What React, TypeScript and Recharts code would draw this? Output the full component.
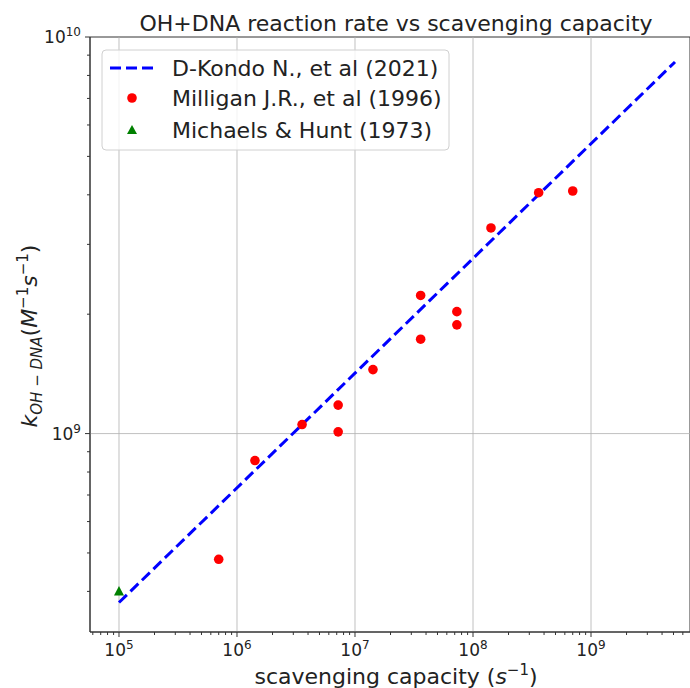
import React from 'react'
import { ComposedChart, Line, Scatter, XAxis, YAxis, ReferenceLine, ReferenceArea } from 'recharts'

// D-Kondo fit line (read at its ends and in the middle)
const KONDO = [
  { x: 1e5, y: 3.75e8 },
  { x: 1e7, y: 1.42e9 },
  { x: 5.15e9, y: 8.65e9 },
]

// Milligan J.R. et al (1996)
const MILLIGAN_X = [7.0e5, 1.42e6, 3.56e6, 7.2e6, 7.2e6, 1.42e7, 3.6e7, 3.6e7, 7.3e7, 7.3e7, 1.42e8, 3.6e8, 7.0e8]
const MILLIGAN_Y = [4.82e8, 8.55e8, 1.054e9, 1.18e9, 1.01e9, 1.45e9, 2.23e9, 1.73e9, 2.03e9, 1.88e9, 3.3e9, 4.05e9, 4.09e9]
const milligan = MILLIGAN_X.map((x, i) => ({ x, y: MILLIGAN_Y[i] }))

// Michaels & Hunt (1973)
const MICHAELS = [{ x: 1e5, y: 4.0e8 }]

const X_DOMAIN = [5.68e4, 6.9e9]
const Y_DOMAIN = [3.16e8, 1e10]
const X_MAJOR = [1e5, 1e6, 1e7, 1e8, 1e9]
const Y_MAJOR = [1e9, 1e10]
const MULT = [2, 3, 4, 5, 6, 7, 8, 9]

const minorTicks = (dom: number[]) => {
  const out: number[] = []
  for (let e = Math.floor(Math.log10(dom[0])); e <= Math.ceil(Math.log10(dom[1])); e++) {
    MULT.forEach(m => {
      const v = m * Math.pow(10, e)
      if (v >= dom[0] && v <= dom[1]) out.push(v)
    })
  }
  return out
}

const X_TICKS = [...X_MAJOR, ...minorTicks(X_DOMAIN)].sort((a, b) => a - b)
const Y_TICKS = [...Y_MAJOR, ...minorTicks(Y_DOMAIN)].filter(v => v <= Y_DOMAIN[1]).sort((a, b) => a - b)

const FONT = '"DejaVu Sans", sans-serif'
const AXIS = '#333'

const isMajor = (v: number) => Math.abs(Math.log10(v) - Math.round(Math.log10(v))) < 1e-6

const XTick = (props: any) => {
  const { x, y, payload } = props
  const v = payload.value
  const major = isMajor(v)
  return (
    <g transform={`translate(${x},${y})`}>
      <line x1={0} y1={0} x2={0} y2={major ? 5 : 3} stroke={AXIS} strokeWidth={1} />
      {major && (
        <text y={24} textAnchor="middle" fontSize={17} fill="#222" fontFamily={FONT}>
          10<tspan dy={-7} fontSize={12}>{Math.round(Math.log10(v))}</tspan>
        </text>
      )}
    </g>
  )
}

const YTick = (props: any) => {
  const { x, y, payload } = props
  const v = payload.value
  const major = isMajor(v)
  return (
    <g transform={`translate(${x},${y})`}>
      <line x1={0} y1={0} x2={major ? -5 : -3} y2={0} stroke={AXIS} strokeWidth={1} />
      {major && (
        <text x={-9} y={6} textAnchor="end" fontSize={17} fill="#222" fontFamily={FONT}>
          10<tspan dy={-7} fontSize={12}>{Math.round(Math.log10(v))}</tspan>
        </text>
      )}
    </g>
  )
}

const Dot = (props: any) => <circle cx={props.cx} cy={props.cy} r={4.8} fill="#ff0000" />
const Tri = (props: any) => (
  <polygon
    points={`${props.cx},${props.cy - 5.5} ${props.cx - 5},${props.cy + 4} ${props.cx + 5},${props.cy + 4}`}
    fill="#008000"
  />
)

export default function App() {
  return (
    <div style={{ position: 'absolute', left: 0, top: 0, width: 690, height: 688, background: '#fff', fontFamily: FONT }}>
      <ComposedChart width={690} height={688} margin={{ top: 37, right: 0, bottom: 0, left: 0 }}>
        <XAxis
          dataKey="x"
          type="number"
          scale="log"
          domain={X_DOMAIN}
          allowDataOverflow
          ticks={X_TICKS}
          interval={0}
          height={56}
          tickSize={0}
          tickMargin={0}
          tick={<XTick />}
          stroke={AXIS}
        />
        <YAxis
          dataKey="y"
          type="number"
          scale="log"
          domain={Y_DOMAIN}
          allowDataOverflow
          ticks={Y_TICKS}
          interval={0}
          width={90}
          tickSize={0}
          tickMargin={0}
          tick={<YTick />}
          stroke={AXIS}
        />
        {X_MAJOR.map(v => (
          <ReferenceLine key={'gx' + v} x={v} stroke="#b0b0b0" strokeWidth={0.8} />
        ))}
        <ReferenceLine y={1e9} stroke="#b0b0b0" strokeWidth={0.8} />
        <ReferenceArea x1={X_DOMAIN[0]} x2={X_DOMAIN[1]} y1={Y_DOMAIN[0]} y2={Y_DOMAIN[1]} fill="none" stroke={AXIS} strokeWidth={1} />
        <Line
          data={KONDO}
          dataKey="y"
          type="linear"
          stroke="#0000ff"
          strokeWidth={3}
          strokeDasharray="11 5"
          dot={false}
          isAnimationActive={false}
        />
        <Scatter data={milligan} dataKey="y" shape={<Dot />} isAnimationActive={false} />
        <Scatter data={MICHAELS} dataKey="y" shape={<Tri />} isAnimationActive={false} />
      </ComposedChart>
      <svg width={690} height={688} style={{ position: 'absolute', left: 0, top: 0, pointerEvents: 'none' }} fontFamily={FONT}>
        <text x={396} y={31} textAnchor="middle" fontSize={22} fill="#222">
          OH+DNA reaction rate vs scavenging capacity
        </text>
        <text x={396} y={684} textAnchor="middle" fontSize={22} fill="#222">
          scavenging capacity (<tspan fontStyle="italic">s</tspan>
          <tspan dy={-9} fontSize={15}>−1</tspan>
          <tspan dy={9}>)</tspan>
        </text>
        <text transform="translate(37,336) rotate(-90)" textAnchor="middle" fontSize={22} fill="#222">
          <tspan fontStyle="italic">k</tspan>
          <tspan dy={5} fontSize={15} fontStyle="italic">OH − DNA</tspan>
          <tspan dy={-5}>(</tspan>
          <tspan fontStyle="italic">M</tspan>
          <tspan dy={-9} fontSize={15}>−1</tspan>
          <tspan dy={9} fontStyle="italic">s</tspan>
          <tspan dy={-9} fontSize={15}>−1</tspan>
          <tspan dy={9}>)</tspan>
        </text>
        <g>
          <rect x={102} y={50} width={347} height={100} rx={4} fill="#fff" fillOpacity={0.8} stroke="#d0d0d0" />
          <line x1={110} y1={68} x2={155} y2={68} stroke="#0000ff" strokeWidth={3} strokeDasharray="11 5" />
          <text x={172} y={76} fontSize={22} fill="#222">D-Kondo N., et al (2021)</text>
          <circle cx={132} cy={98} r={4.8} fill="#ff0000" />
          <text x={172} y={106} fontSize={22} fill="#222">Milligan J.R., et al (1996)</text>
          <polygon points="132,125 127,134 137,134" fill="#008000" />
          <text x={172} y={138} fontSize={22} fill="#222">Michaels &amp; Hunt (1973)</text>
        </g>
      </svg>
    </div>
  )
}
